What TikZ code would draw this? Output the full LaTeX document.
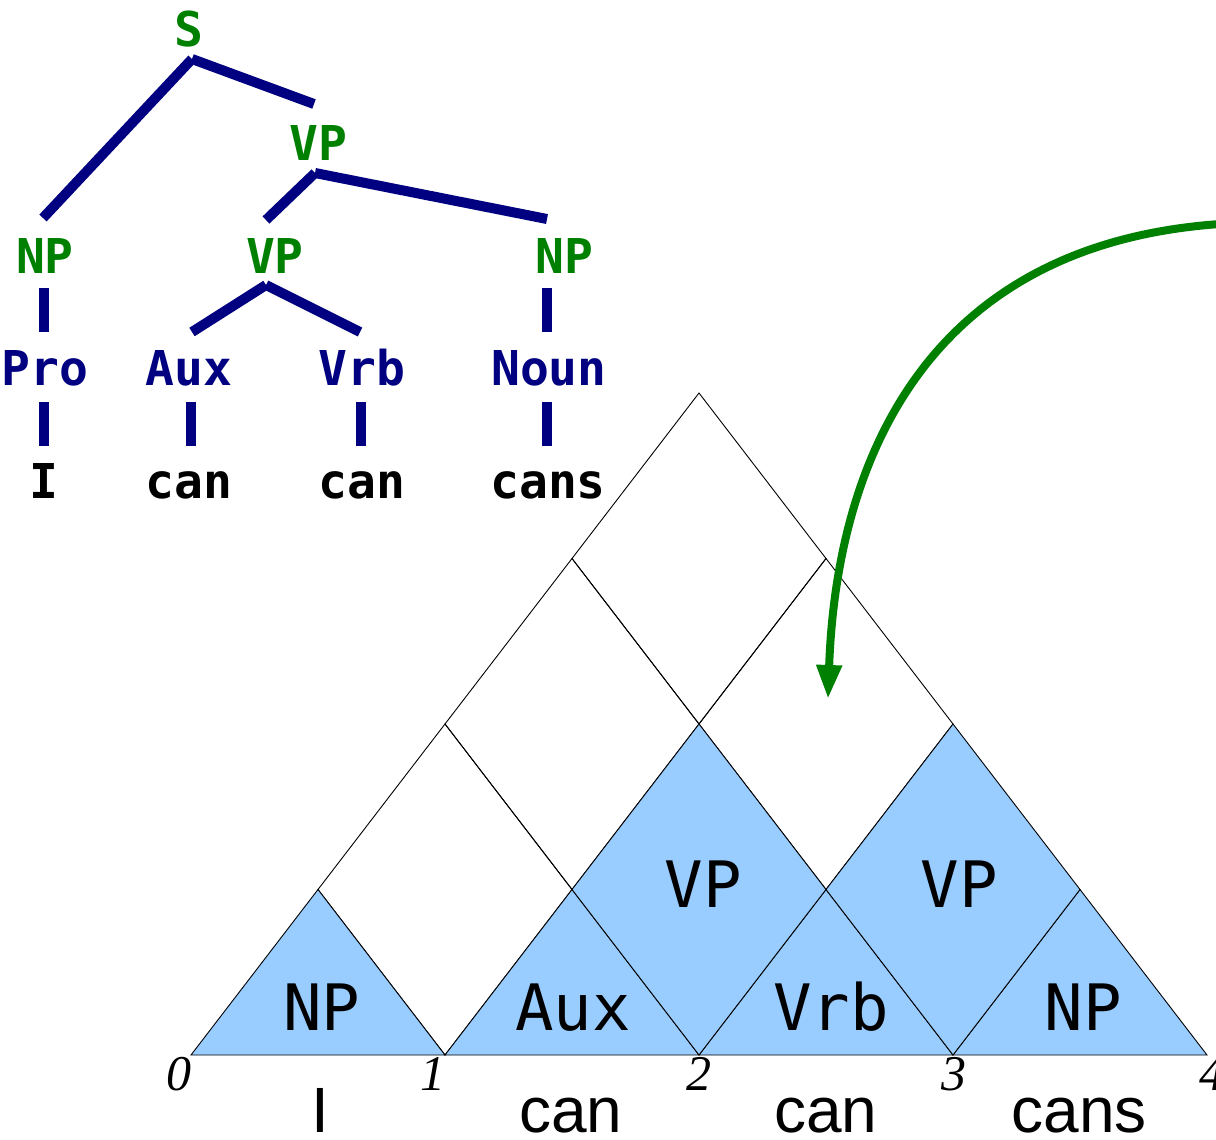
\documentclass[tikz,border=0pt]{standalone}
\usepackage{fontspec}
\usetikzlibrary{arrows.meta}
\newfontfamily\treefont{DejaVu Sans Mono}
\newfontfamily\wordfont{Liberation Sans}
\newfontfamily\numfont{Liberation Serif}
\definecolor{treegreen}{RGB}{0,128,0}
\definecolor{treenavy}{RGB}{0,0,128}
\definecolor{cellblue}{RGB}{153,204,255}
\tikzset{
  treelabel/.style={font=\treefont\bfseries\fontsize{48}{48}\selectfont, anchor=base, inner sep=0pt},
  phrase/.style={treelabel, text=treegreen},
  tag/.style={treelabel, text=treenavy},
  leaf/.style={treelabel, text=black},
  treeedge/.style={draw=treenavy, line width=10pt, line cap=butt},
  cell/.style={draw=black, line width=0.9pt, line join=miter},
  filledcell/.style={cell, fill=cellblue},
  celllabel/.style={font=\treefont\fontsize{64}{64}\selectfont, anchor=base, inner sep=0pt},
  chartword/.style={font=\wordfont\fontsize{64}{64}\selectfont, anchor=base, inner sep=0pt},
  position/.style={font=\numfont\itshape\fontsize{50}{50}\selectfont, anchor=base, inner sep=0pt},
  pointer/.style={draw=treegreen, line width=8pt, -{Triangle[length=34pt,width=24pt]}}
}
\begin{document}
\begin{tikzpicture}[x=1pt, y=-1pt]
\useasboundingbox (0,0) rectangle (1216,1140);

% ---------- parse tree ----------
\node[phrase] (s)    at (189,47)  {S};
\node[phrase] (vp1)  at (318,160) {VP};
\node[phrase] (np1)  at (45,273)  {NP};
\node[phrase] (vp2)  at (275,273) {VP};
\node[phrase] (np2)  at (564,273) {NP};
\node[tag]    (pro)  at (45,385)  {Pro};
\node[tag]    (aux)  at (189,385) {Aux};
\node[tag]    (vrb)  at (362,385) {Vrb};
\node[tag]    (noun) at (549,385) {Noun};
\node[leaf]   (w1)   at (44,498)  {I};
\node[leaf]   (w2)   at (189,498) {can};
\node[leaf]   (w3)   at (362,498) {can};
\node[leaf]   (w4)   at (548,498) {cans};

% branch end points
\coordinate (s-foot)    at (192,59);
\coordinate (np1-head)  at (43,218);
\coordinate (vp1-head)  at (314,104);
\coordinate (vp1-foot)  at (315,173);
\coordinate (vp2-head)  at (266,220);
\coordinate (np2-head)  at (547,219);
\coordinate (vp2-foot)  at (266,285);
\coordinate (aux-head)  at (192,332);
\coordinate (vrb-head)  at (360,332);
\coordinate (np1-foot)  at (43.5,288);
\coordinate (pro-head)  at (43.5,332);
\coordinate (np2-foot)  at (547,288);
\coordinate (noun-head) at (547,332);
\coordinate (pro-foot)  at (43.5,402);
\coordinate (w1-head)   at (43.5,446);
\coordinate (aux-foot)  at (191,402);
\coordinate (w2-head)   at (191,446);
\coordinate (vrb-foot)  at (360.5,402);
\coordinate (w3-head)   at (360.5,446);
\coordinate (noun-foot) at (547,402);
\coordinate (w4-head)   at (547,446);

\draw[treeedge] (s-foot) -- (np1-head);
\draw[treeedge] (s-foot) -- (vp1-head);
\draw[treeedge] (vp1-foot) -- (vp2-head);
\draw[treeedge] (vp1-foot) -- (np2-head);
\draw[treeedge] (vp2-foot) -- (aux-head);
\draw[treeedge] (vp2-foot) -- (vrb-head);
\draw[treeedge] (np1-foot) -- (pro-head);
\draw[treeedge] (np2-foot) -- (noun-head);
\draw[treeedge] (pro-foot) -- (w1-head);
\draw[treeedge] (aux-foot) -- (w2-head);
\draw[treeedge] (vrb-foot) -- (w3-head);
\draw[treeedge] (noun-foot) -- (w4-head);

% ---------- chart: p<i><j> is the apex of the cell spanning i..j ----------
\foreach \i in {0,...,4}
  \foreach \j in {\i,...,4}
    \coordinate (p\i\j) at ({191+(\i+\j)*127},{1055-(\j-\i)*165.5});

% empty cells
\draw[cell] (p02) -- (p01) -- (p11) -- (p12) -- cycle;
\draw[cell] (p03) -- (p02) -- (p12) -- (p13) -- cycle;
\draw[cell] (p04) -- (p03) -- (p13) -- (p14) -- cycle;
\draw[cell] (p14) -- (p13) -- (p23) -- (p24) -- cycle;
% filled cells
\draw[filledcell] (p00) -- (p11) -- (p01) -- cycle;
\draw[filledcell] (p11) -- (p22) -- (p12) -- cycle;
\draw[filledcell] (p22) -- (p33) -- (p23) -- cycle;
\draw[filledcell] (p33) -- (p44) -- (p34) -- cycle;
\draw[filledcell] (p13) -- (p12) -- (p22) -- (p23) -- cycle;
\draw[filledcell] (p24) -- (p23) -- (p33) -- (p34) -- cycle;

% cell labels
\node[celllabel] (c01) at (322,1030) {NP};
\node[celllabel] (c12) at (573,1030) {Aux};
\node[celllabel] (c23) at (831,1030) {Vrb};
\node[celllabel] (c34) at (1083,1030) {NP};
\node[celllabel] (c13) at (703,907) {VP};
\node[celllabel] (c24) at (959,907) {VP};

% positions
\node[position] (n0) at (179,1090) {0};
\node[position] (n1) at (433,1090) {1};
\node[position] (n2) at (699,1090) {2};
\node[position] (n3) at (954,1090) {3};
\node[position] (n4) at (1212,1090) {4};

% input words
\node[chartword] (t1) at (320,1132) {I};
\node[chartword] (t2) at (571,1132) {can};
\node[chartword] (t3) at (826,1132) {can};
\node[chartword] (t4) at (1079,1132) {cans};

% pointer into the cell spanning 1..4
\coordinate (pointer-from) at (1220,224);
\coordinate (c14-tip) at (828,699);
\draw[pointer] (pointer-from) .. controls (920,245) and (836,470) .. (c14-tip);
\end{tikzpicture}
\end{document}
